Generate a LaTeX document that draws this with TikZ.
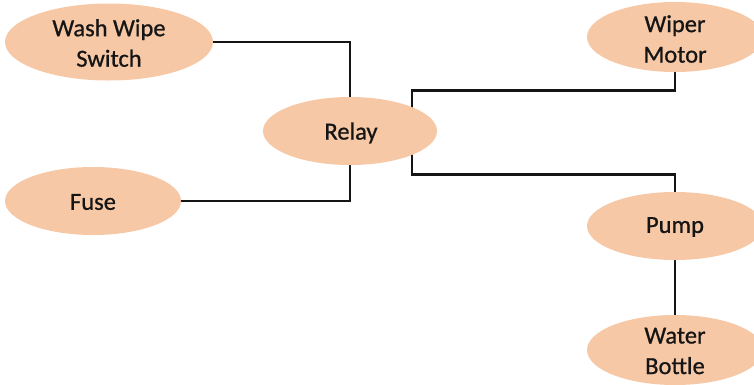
\documentclass[tikz,border=0pt]{standalone}
\usepackage{fontspec}
\setmainfont{Carlito}
\newfontfamily\lblfont{Carlito}[FakeBold=0.8]
\usetikzlibrary{shapes.geometric,backgrounds,calc}
\definecolor{peach}{HTML}{F6C8A6}
\definecolor{ink}{HTML}{151515}
\begin{document}
\begin{tikzpicture}[x=1pt,y=-1pt,
  part/.style={ellipse, fill=peach, draw=none, inner sep=0pt},
  lbl/.style={align=center, text=ink, inner sep=0pt,
    font=\lblfont\fontsize{24.5}{30.5}\selectfont},
  wire/.style={line width=2.7pt, draw=ink}]
\useasboundingbox (0,0) rectangle (754,384);

% component ellipses
\node[part, minimum width=208pt, minimum height=77pt] (wws)   at (109,42)  {};
\node[part, minimum width=174pt, minimum height=68pt] (relay) at (350,131) {};
\node[part, minimum width=176pt, minimum height=68pt] (fuse)  at (93,201)  {};
\node[part, minimum width=176pt, minimum height=70pt] (wiper) at (675,37)  {};
\node[part, minimum width=176pt, minimum height=68pt] (pump)  at (675,226) {};
\node[part, minimum width=176pt, minimum height=70pt] (water) at (675,350) {};

% labels
\node[lbl] (twws)   at ($(wws)+(0,1)$)   {Wash Wipe\\Switch};
\node[lbl] (trelay) at ($(relay)+(1,2)$) {Relay};
\node[lbl] (tfuse)  at ($(fuse)+(0,1)$)  {Fuse};
\node[lbl] (twiper) at ($(wiper)+(0,2)$) {Wiper\\Motor};
\node[lbl] (tpump)  at ($(pump)+(0,1)$)  {Pump};
\node[lbl] (twater) at ($(water)+(0,1)$) {Water\\Bottle};

% wiring, kept behind the ellipses
\begin{pgfonlayer}{background}
  \coordinate (rtap) at ($(relay.center)+(62,0)$);
  \draw[wire] (wws.east) -| (relay.north);
  \draw[wire] (fuse.east) -| (relay.south);
  \draw[wire] (wiper.south) -- ++(0,18) -| (rtap);
  \draw[wire] (rtap) |- ($(pump.north)+(0,-17)$) -- (pump.north);
  \draw[wire] (pump.south) -- (water.north);
\end{pgfonlayer}
\end{tikzpicture}
\end{document}
